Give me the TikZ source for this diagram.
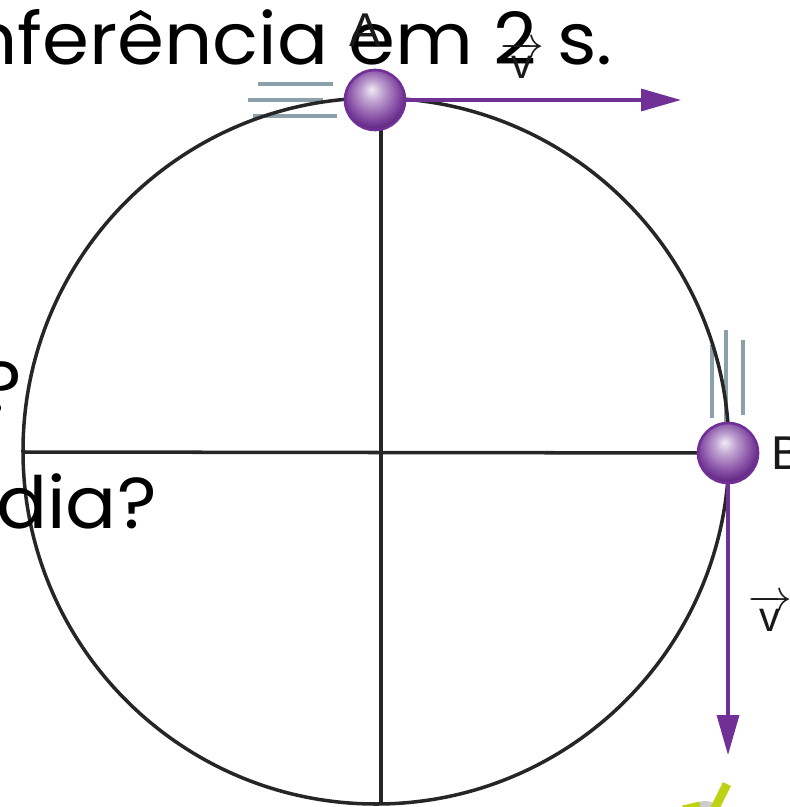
\documentclass[tikz,border=0pt]{standalone}
\usepackage{fontspec}
\setmainfont{Liberation Sans}
\newfontfamily\questfont[FakeStretch=1.05]{Poppins}
\usetikzlibrary{arrows.meta}
\definecolor{ballpurple}{RGB}{138,84,168}
\definecolor{vecpurple}{RGB}{112,48,150}
\definecolor{streakgray}{RGB}{140,160,172}
\definecolor{limegreen}{RGB}{190,210,20}
\pgfdeclareradialshading{purpleball}{\pgfpoint{-3bp}{9bp}}{%
  color(0bp)=(white!88!ballpurple); color(9bp)=(white!45!ballpurple);
  color(20bp)=(ballpurple); color(27bp)=(vecpurple!90!black); color(50bp)=(vecpurple!90!black)}

\begin{document}
\begin{tikzpicture}[
    x=0.02cm, y=-0.02cm,
    ring/.style={line width=2pt, color=black!85},
    axis/.style={line width=2pt, color=black!85},
    ball/.style={circle, minimum size=1.2cm, inner sep=0pt, shading=purpleball, draw=vecpurple, line width=1.5pt},
    velocity/.style={-{Triangle[length=0.8cm, width=0.44cm]}, line width=1.9pt, color=vecpurple},
    streak/.style={line width=1.8pt, color=streakgray},
    tag/.style={font=\fontsize{27}{30}\selectfont, text=black!90, inner sep=0pt},
    vlabel/.style={font=\fontsize{24}{28}\selectfont, text=black!90, inner sep=0pt},
    question/.style={font=\questfont\fontsize{41}{46}\selectfont, anchor=base east, inner sep=0pt}
]
    \useasboundingbox (0,0) rectangle (790,807);
    \clip (0,0) rectangle (790,807);

    \coordinate (O) at (376,451);
    \coordinate (W) at (23,452);
    \coordinate (S) at (381,805);
    \coordinate (Ac) at (375,100);
    \coordinate (Bc) at (728,453);
    \coordinate (tipA) at (681,100);
    \coordinate (tipB) at (728,755);

    % motion streaks
    \foreach \y/\a/\b in {84/258/333, 100/248/323, 116/253/337}
        \draw[streak] (\a,\y) -- (\b,\y);
    \foreach \x/\a/\b in {712/345/418, 726/330/422, 743/340/415}
        \draw[streak] (\x,\a) -- (\x,\b);

    \draw[ring] (O) circle (353);
    \draw[axis] (W) -- (Bc);
    \draw[axis] (Ac -| S) -- (S);

    \draw[velocity] (Ac) -- (tipA);
    \draw[velocity] (Bc) -- (tipB);

    \node[ball] (ballA) at (Ac) {};
    \node[ball] (ballB) at (Bc) {};

    % text of the page behind the figure
    \node[question] (qTop) at (613,65) {nferência em 2 s.};
    \node[question] (qMark) at (22,412) {?};
    \node[question] (qDia) at (157,528) {dia?};

    \node[tag] (labA) at (365,30) {A};
    \node[tag, anchor=west] (labB) at (771,453) {B};
    \node[vlabel] (vecA) at (522,60) {$\overrightarrow{\hbox{v}}$};
    \node[vlabel] (vecB) at (770,613) {$\overrightarrow{\hbox{v}}$};

    % scrap of the next figure
    \fill[black!20] (705,806) ellipse (10 and 5);
    \draw[line width=5pt, color=limegreen] (727,784) -- (713,812);
    \draw[line width=4pt, color=limegreen] (683,809) -- (700,805);
\end{tikzpicture}
\end{document}
